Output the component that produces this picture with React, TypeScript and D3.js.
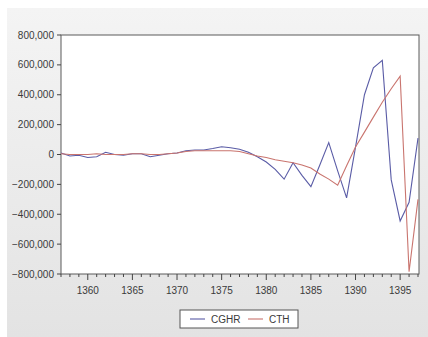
import * as d3 from "d3";

const years = d3.range(1357, 1398);

// CGHR series (blue)
const cghr = [
  10000, -10000, -5000, -20000, -15000, 15000, 0, -5000, 5000, 5000,
  -15000, -5000, 5000, 10000, 25000, 30000, 30000, 40000, 52000, 45000,
  35000, 15000, -15000, -50000, -100000, -165000, -55000, -140000, -215000, -70000,
  80000, -110000, -290000, 50000, 400000, 580000, 630000, -170000, -445000, -320000,
  110000,
];

// CTH series (red)
const cth = [
  5000, 0, 0, 0, 5000, 0, 0, 0, 5000, 5000,
  0, 0, 5000, 10000, 20000, 25000, 25000, 25000, 25000, 25000,
  20000, 5000, -10000, -20000, -35000, -45000, -55000, -70000, -90000, -130000,
  -165000, -205000, -75000, 50000, 150000, 250000, 350000, 440000, 525000, -785000,
  -300000,
];

const yTicks = [800000, 600000, 400000, 200000, 0, -200000, -400000, -600000, -800000];
const xLabels = [1360, 1365, 1370, 1375, 1380, 1385, 1390, 1395];

const seriesNames = ["CGHR", "CTH"];
const seriesColors = ["#5a5ca6", "#c9746e"];

export default function App() {
  const width = 428;
  const height = 337;
  const left = 61;
  const right = 418;
  const top = 35;
  const bottom = 274;

  const x = d3.scaleLinear().domain([1357, 1397]).range([left, right]);
  const y = d3.scaleLinear().domain([-800000, 800000]).range([bottom, top]);
  const fmt = d3.format(",");

  const line = d3
    .line<number>()
    .x((_, i) => x(years[i]))
    .y((d) => y(d));

  const font = "Liberation Sans, Arial, sans-serif";

  return (
    <svg
      width={width}
      height={height}
      style={{ position: "absolute", left: 0, top: 0 }}
    >
      <defs>
        <linearGradient id="bg" x1="0" y1="0" x2="0" y2="1">
          <stop offset="0" stopColor="#f4f4f4" />
          <stop offset="1" stopColor="#e3e3e3" />
        </linearGradient>
      </defs>
      <rect x={0} y={0} width={width} height={height} fill="#ffffff" />
      <rect x={7} y={8} width={width - 7} height={height - 8} fill="url(#bg)" />

      {/* plot area */}
      <rect
        x={left}
        y={top}
        width={right - left + 1}
        height={bottom - top}
        fill="#ffffff"
        stroke="#5a5a5a"
        strokeWidth={1}
      />

      {/* y axis ticks */}
      {yTicks.map((t) => (
        <g key={t}>
          <line x1={left - 4} x2={left} y1={y(t)} y2={y(t)} stroke="#444" />
          <text
            x={left - 7}
            y={y(t) + 3.5}
            textAnchor="end"
            fontFamily={font}
            fontSize={10}
            fill="#3a3a3a"
          >
            {fmt(t)}
          </text>
        </g>
      ))}

      {/* x axis ticks */}
      {years.map((yr) => (
        <line
          key={yr}
          x1={x(yr)}
          x2={x(yr)}
          y1={bottom}
          y2={bottom + (yr % 5 === 0 ? 6 : 3)}
          stroke="#444"
        />
      ))}
      {xLabels.map((yr) => (
        <text
          key={yr}
          x={x(yr)}
          y={294}
          textAnchor="middle"
          fontFamily={font}
          fontSize={10}
          fill="#3a3a3a"
        >
          {yr}
        </text>
      ))}

      {/* series */}
      <path d={line(cghr) ?? ""} fill="none" stroke={seriesColors[0]} strokeWidth={1.1} />
      <path d={line(cth) ?? ""} fill="none" stroke={seriesColors[1]} strokeWidth={1.1} />

      {/* legend */}
      <rect x={180} y={310} width={118} height={18} fill="#ffffff" stroke="#555" />
      {seriesNames.map((name, i) => {
        const lx = i === 0 ? 190 : 248;
        return (
          <g key={name}>
            <line
              x1={lx}
              x2={lx + 15}
              y1={319}
              y2={319}
              stroke={seriesColors[i]}
              strokeWidth={1.1}
            />
            <text
              x={lx + 21}
              y={322.5}
              fontFamily={font}
              fontSize={10}
              fill="#3a3a3a"
            >
              {name}
            </text>
          </g>
        );
      })}
    </svg>
  );
}
